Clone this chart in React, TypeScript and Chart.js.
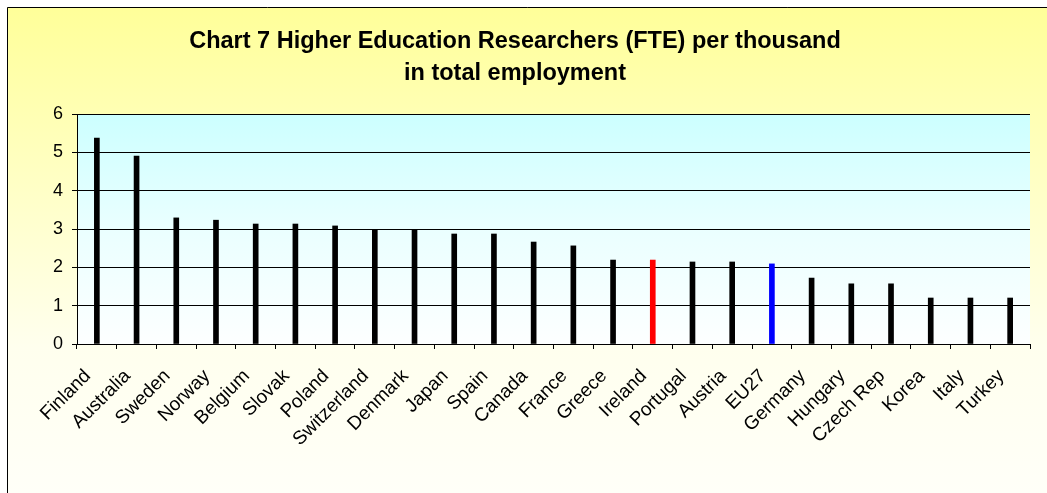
import React, { useEffect, useRef } from "react";
import { Chart, registerables } from "chart.js";

Chart.register(...registerables);

const categories = [
  "Finland", "Australia", "Sweden", "Norway", "Belgium", "Slovak", "Poland",
  "Switzerland", "Denmark", "Japan", "Spain", "Canada", "France", "Greece",
  "Ireland", "Portugal", "Austria", "EU27", "Germany", "Hungary", "Czech Rep",
  "Korea", "Italy", "Turkey",
];

const values = [
  5.37, 4.9, 3.29, 3.23, 3.13, 3.13, 3.08,
  2.97, 2.97, 2.87, 2.87, 2.66, 2.56, 2.19,
  2.19, 2.14, 2.14, 2.09, 1.72, 1.57, 1.57,
  1.2, 1.2, 1.2,
];

const barColors = categories.map((c) =>
  c === "Ireland" ? "#FF0000" : c === "EU27" ? "#0000FF" : "#000000"
);

const titleLines = [
  "Chart 7 Higher Education Researchers (FTE) per thousand",
  "in total employment",
];

const yTicks = [0, 1, 2, 3, 4, 5, 6];

const FONT = "'Liberation Sans', Arial, sans-serif";

const backgroundPlugin = {
  id: "bgPlugin",
  beforeDraw(chart: any) {
    const { ctx, width, height, chartArea } = chart;
    ctx.save();
    ctx.fillStyle = "#FFFFFF";
    ctx.fillRect(0, 0, width, height);
    const g = ctx.createLinearGradient(0, 7, 0, height);
    g.addColorStop(0, "#FFFF99");
    g.addColorStop(0.7, "#FFFFEE");
    g.addColorStop(1, "#FFFFF8");
    ctx.fillStyle = g;
    ctx.fillRect(7, 7, width - 7, height - 7);
    ctx.strokeStyle = "#000000";
    ctx.lineWidth = 1;
    ctx.beginPath();
    ctx.moveTo(7.5, height);
    ctx.lineTo(7.5, 7.5);
    ctx.lineTo(width, 7.5);
    ctx.stroke();
    const pg = ctx.createLinearGradient(0, chartArea.top, 0, chartArea.bottom);
    pg.addColorStop(0, "#CCFFFF");
    pg.addColorStop(0.5, "#EAFFFF");
    pg.addColorStop(1, "#FDFFFF");
    ctx.fillStyle = pg;
    ctx.fillRect(
      chartArea.left,
      chartArea.top,
      chartArea.right - chartArea.left,
      chartArea.bottom - chartArea.top
    );
    ctx.restore();
  },
};

export default function App() {
  const ref = useRef<HTMLCanvasElement | null>(null);

  useEffect(() => {
    if (!ref.current) return;
    const chart = new Chart(ref.current, {
      type: "bar",
      data: {
        labels: categories,
        datasets: [
          {
            data: values,
            backgroundColor: barColors,
            borderWidth: 0,
            barThickness: 5,
          },
        ],
      },
      options: {
        animation: false,
        responsive: false,
        layout: { padding: { left: 0, right: 17, top: 0, bottom: 0 } },
        plugins: {
          legend: { display: false },
          tooltip: { enabled: false },
          title: {
            display: true,
            text: titleLines,
            color: "#000000",
            font: { family: FONT, size: 23.5, weight: "bold", lineHeight: 1.362 },
            padding: { top: 26, bottom: 24 },
          },
        },
        scales: {
          x: {
            afterFit: (s: any) => {
              s.height = 149;
            },
            grid: {
              offset: true,
              drawOnChartArea: false,
              drawTicks: true,
              tickLength: 5,
              color: "#000000",
            },
            border: { display: true, color: "#000000", width: 1 },
            ticks: {
              color: "#000000",
              font: { family: FONT, size: 19 },
              minRotation: 45,
              maxRotation: 45,
              autoSkip: false,
              padding: 16,
              labelOffset: -9,
            },
          },
          y: {
            min: 0,
            max: 6,
            afterFit: (s: any) => {
              s.width = 77;
            },
            afterBuildTicks: (s: any) => {
              s.ticks = yTicks.map((v) => ({ value: v }));
            },
            grid: {
              color: "#000000",
              lineWidth: 1,
              tickLength: 5,
            },
            border: { display: true, color: "#000000", width: 1 },
            ticks: {
              color: "#000000",
              font: { family: FONT, size: 18 },
              padding: 9,
            },
          },
        },
      },
      plugins: [backgroundPlugin],
    });
    return () => chart.destroy();
  }, []);

  return (
    <div style={{ position: "fixed", left: 0, top: 0, width: 1047, height: 493 }}>
      <canvas ref={ref} width={1047} height={493} style={{ display: "block" }} />
    </div>
  );
}
